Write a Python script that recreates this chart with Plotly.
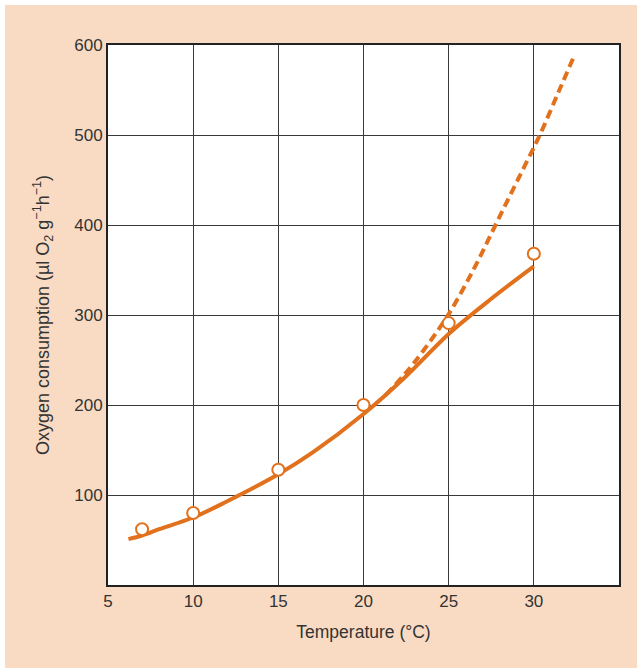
import plotly.graph_objects as go

# Measured data points
temp_pts = [7, 10, 15, 20, 25, 30]
o2_pts = [62, 80, 128, 200, 291, 368]

# Solid fitted curve
solid_x = [6.2, 7, 8, 10, 12, 15, 17, 20, 22.5, 25, 27.5, 30]
solid_y = [51, 55, 62, 75, 93, 123, 147, 190, 232, 279, 318, 354]

# Dashed extrapolated curve
dash_x = [21.3, 22.5, 23.5, 25, 26.5, 27.75, 29, 30.35, 31.5, 32.35]
dash_y = [211, 236, 260, 301, 352, 400, 448, 500, 550, 587]

x_ticks = [5, 10, 15, 20, 25, 30]
y_ticks = [100, 200, 300, 400, 500, 600]

orange = "#e2711d"
peach = "#f9dbc3"

fig = go.Figure()
fig.add_trace(go.Scatter(x=dash_x, y=dash_y, mode="lines",
                         line=dict(color=orange, width=4, dash="9px,5px", shape="spline"),
                         showlegend=False, hoverinfo="skip"))
fig.add_trace(go.Scatter(x=solid_x, y=solid_y, mode="lines",
                         line=dict(color=orange, width=4, shape="spline", smoothing=1.0),
                         showlegend=False, hoverinfo="skip"))
fig.add_trace(go.Scatter(x=temp_pts, y=o2_pts, mode="markers",
                         marker=dict(size=12, color="white", line=dict(color=orange, width=2)),
                         showlegend=False))

ml, mr, mt, mb = 108, 18, 45, 83
W, H = 637, 668
pw, ph = W - ml - mr, H - mt - mb

def px_to_paper_x(p):
    return (p - ml) / pw

def px_to_paper_y(p):
    return (H - mb - p) / ph

shapes = [
    dict(type="rect", xref="paper", yref="paper", layer="below",
         x0=px_to_paper_x(0), x1=px_to_paper_x(W), y0=px_to_paper_y(0), y1=px_to_paper_y(5),
         fillcolor="white", line=dict(width=0)),
    dict(type="rect", xref="paper", yref="paper", layer="below",
         x0=px_to_paper_x(0), x1=px_to_paper_x(5), y0=px_to_paper_y(0), y1=px_to_paper_y(H),
         fillcolor="white", line=dict(width=0)),
]

font = "Liberation Sans, Arial, sans-serif"
fig.update_layout(
    width=W, height=H,
    margin=dict(l=ml, r=mr, t=mt, b=mb),
    paper_bgcolor=peach, plot_bgcolor="white",
    font=dict(family=font, color="#333333", size=17),
    shapes=shapes,
    xaxis=dict(range=[5, 35], tickvals=x_ticks, ticktext=[str(v) for v in x_ticks],
               showgrid=True, gridcolor="#3a3a3a", gridwidth=1.2,
               showline=True, linecolor="#222222", linewidth=2, mirror=True,
               zeroline=False, ticks="", tickfont=dict(size=17),
               title=dict(text="Temperature (°C)", font=dict(size=17.5), standoff=15)),
    yaxis=dict(range=[0, 600], tickvals=y_ticks, ticktext=[str(v) for v in y_ticks],
               showgrid=True, gridcolor="#3a3a3a", gridwidth=1.2,
               showline=True, linecolor="#222222", linewidth=2, mirror=True,
               zeroline=False, ticks="", tickfont=dict(size=17),
               title=dict(text="Oxygen consumption (µl O<sub>2</sub> g<sup>−1</sup>h<sup>−1</sup>)",
                          font=dict(size=18), standoff=20)),
)
fig.write_html("out.html", config={"displayModeBar": False},
               post_script="document.body.style.margin='0px';")
